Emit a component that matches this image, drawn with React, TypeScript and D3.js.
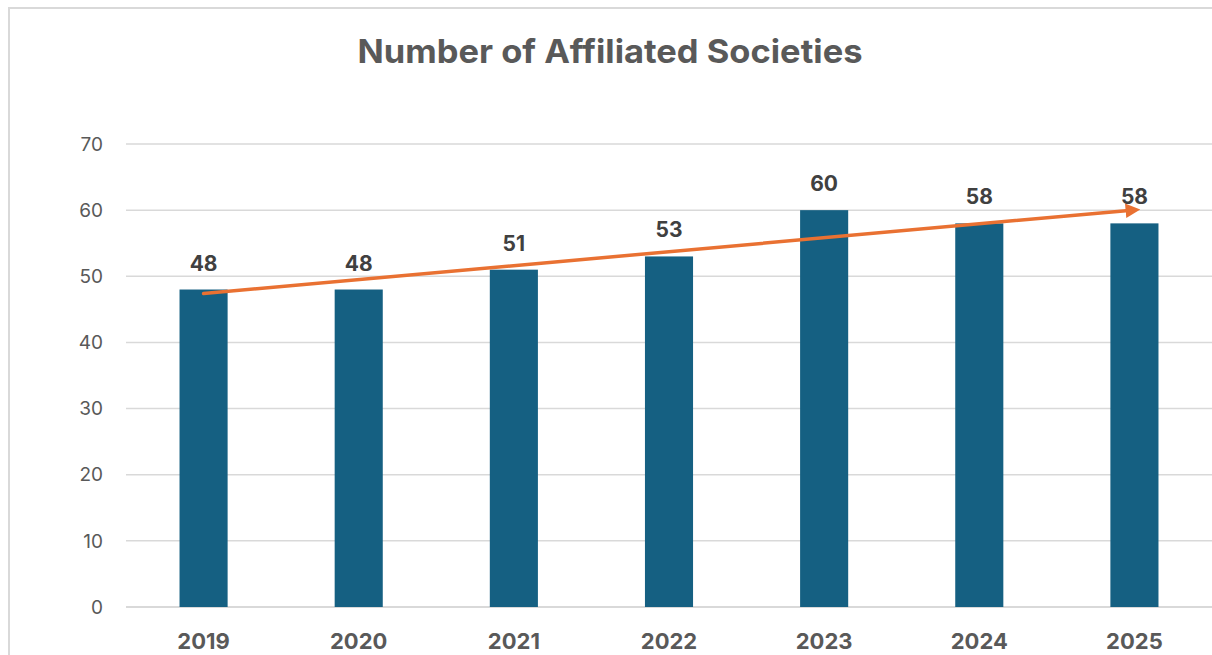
import { scaleBand, scaleLinear } from "d3";

const years = ["2019", "2020", "2021", "2022", "2023", "2024", "2025"];
const societies = [48, 48, 51, 53, 60, 58, 58];
const yTicks = [0, 10, 20, 30, 40, 50, 60, 70];

const W = 1212;
const H = 655;
const margin = { top: 144, right: 0, bottom: 48, left: 126 };

const font = "Inter, 'Open Sans', 'DejaVu Sans', sans-serif";

export default function App() {
  const xScale = scaleBand<string>()
    .domain(years)
    .range([margin.left, W - margin.right])
    .paddingInner(0.69)
    .paddingOuter(0.345);

  const yScale = scaleLinear()
    .domain([0, 70])
    .range([H - margin.bottom, margin.top]);

  // linear trendline (least squares), like the spreadsheet one
  const n = societies.length;
  const xs = societies.map((_, i) => i);
  const mx = xs.reduce((a, b) => a + b, 0) / n;
  const my = societies.reduce((a, b) => a + b, 0) / n;
  let num = 0;
  let den = 0;
  xs.forEach((x, i) => {
    num += (x - mx) * (societies[i] - my);
    den += (x - mx) * (x - mx);
  });
  const slope = num / den;
  const intercept = my - slope * mx;
  const cx = (i: number) => (xScale(years[i]) ?? 0) + xScale.bandwidth() / 2;
  const x1 = cx(0);
  const y1 = yScale(intercept);
  const x2 = cx(n - 1);
  const y2 = yScale(intercept + slope * (n - 1));

  return (
    <svg
      width={W}
      height={H}
      style={{ position: "absolute", left: 0, top: 0, background: "#fff" }}
    >
      <defs>
        <marker
          id="arrow"
          viewBox="0 0 10 10"
          refX="6"
          refY="5"
          markerWidth="4.2"
          markerHeight="4.2"
          orient="auto"
        >
          <path d="M0,0 L10,5 L0,10 z" fill="#E97132" />
        </marker>
      </defs>

      {/* frame */}
      <line x1={9} x2={9} y1={8} y2={H} stroke="#d9d9d9" strokeWidth={2} />
      <line x1={8} x2={W} y1={8} y2={8} stroke="#d9d9d9" strokeWidth={2} />

      <text
        x={610}
        y={63}
        textAnchor="middle"
        fontFamily={font}
        fontWeight={700}
        fontSize={33}
        textLength={505}
        lengthAdjust="spacingAndGlyphs"
        fill="#595959"
      >
        Number of Affiliated Societies
      </text>

      {/* grid + y labels */}
      {yTicks.map((t) => (
        <g key={t}>
          <line
            x1={margin.left}
            x2={W}
            y1={yScale(t)}
            y2={yScale(t)}
            stroke="#d9d9d9"
            strokeWidth={t === 0 ? 2 : 1.5}
          />
          <text
            x={103}
            y={yScale(t)}
            dy="0.35em"
            textAnchor="end"
            fontFamily={font}
            fontSize={19}
            fill="#595959"
          >
            {t}
          </text>
        </g>
      ))}

      {/* bars */}
      {societies.map((v, i) => (
        <rect
          key={years[i]}
          x={xScale(years[i])}
          y={yScale(v)}
          width={xScale.bandwidth()}
          height={yScale(0) - yScale(v)}
          fill="#156082"
        />
      ))}

      {/* trendline */}
      <line
        x1={x1}
        y1={y1}
        x2={x2}
        y2={y2}
        stroke="#E97132"
        strokeWidth={3.5}
        strokeLinecap="round"
        markerEnd="url(#arrow)"
      />

      {/* data labels */}
      {societies.map((v, i) => (
        <text
          key={years[i]}
          x={cx(i)}
          y={yScale(v) - 19}
          textAnchor="middle"
          fontFamily={font}
          fontWeight={700}
          fontSize={21}
          fill="#404040"
        >
          {v}
        </text>
      ))}

      {/* x labels */}
      {years.map((y, i) => (
        <text
          key={y}
          x={cx(i)}
          y={649}
          textAnchor="middle"
          fontFamily={font}
          fontWeight={700}
          fontSize={22}
          fill="#595959"
        >
          {y}
        </text>
      ))}
    </svg>
  );
}
